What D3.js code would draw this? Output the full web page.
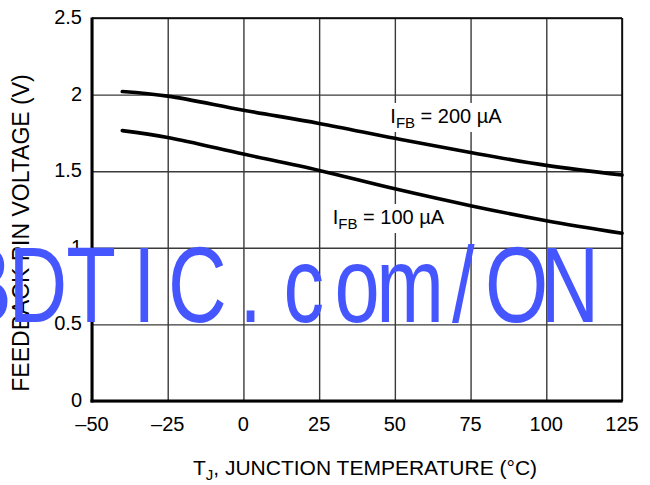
<!DOCTYPE html>
<html>
<head>
<meta charset="utf-8">
<script src="https://cdn.jsdelivr.net/npm/d3@7"></script>
<style>
  html, body { margin: 0; padding: 0; background: #fff; }
  svg { display: block; }
  text { font-family: "Liberation Sans", Arial, Helvetica, sans-serif; fill: #000; }
</style>
</head>
<body>
<svg id="chart" width="650" height="485"></svg>
<script>
// ---- data ----
const temps   = [-40, -25, 0, 25, 50, 75, 100, 125];
const vfb200  = [2.02, 1.99, 1.898, 1.812, 1.715, 1.622, 1.538, 1.475];
const vfb100  = [1.765, 1.72, 1.612, 1.505, 1.385, 1.275, 1.177, 1.095];
const xTicks  = [-50, -25, 0, 25, 50, 75, 100, 125];
const yTicks  = [0, 0.5, 1, 1.5, 2, 2.5];
const seriesLabels = [
  { main: "I", sub: "FB", rest: " = 200 µA", t: 48.5, v: 1.815 },
  { main: "I", sub: "FB", rest: " = 100 µA", t: 29.5, v: 1.155 }
];
const watermark = "BDTIC.com/ON";

// ---- layout ----
const svg = d3.select("#chart");
const L = 92, R = 622, T = 18, B = 401;
const x = d3.scaleLinear().domain([-50, 125]).range([L, R]);
const y = d3.scaleLinear().domain([0, 2.5]).range([B, T]);

// grid
svg.append("g").attr("transform", `translate(0,${B})`)
  .call(d3.axisBottom(x).tickValues(xTicks).tickSize(-(B - T)).tickFormat(""))
  .call(g => g.select(".domain").remove())
  .call(g => g.selectAll("line").attr("stroke", "#3a3a3a").attr("stroke-width", 1.4));
svg.append("g").attr("transform", `translate(${L},0)`)
  .call(d3.axisLeft(y).tickValues(yTicks).tickSize(-(R - L)).tickFormat(""))
  .call(g => g.select(".domain").remove())
  .call(g => g.selectAll("line").attr("stroke", "#3a3a3a").attr("stroke-width", 1.4));

// label backgrounds (white boxes that interrupt grid)
const labelG = svg.append("g");
const labels = labelG.selectAll("g.lab").data(seriesLabels).join("g").attr("class", "lab");
const labTexts = labels.append("text")
  .attr("x", d => x(d.t)).attr("y", d => y(d.v))
  .style("font-size", "20px");
labTexts.append("tspan").text(d => d.main);
labTexts.append("tspan").attr("dy", 5).style("font-size", "15px").text(d => d.sub);
labTexts.append("tspan").attr("dy", -5).text(d => d.rest);
labels.each(function() {
  const g = d3.select(this);
  const bb = g.select("text").node().getBBox();
  g.insert("rect", "text")
    .attr("x", bb.x - 5).attr("y", bb.y - 2)
    .attr("width", bb.width + 10).attr("height", bb.height + 3)
    .attr("fill", "#fff");
});

// curves
const line = d3.line().x(d => x(d[0])).y(d => y(d[1])).curve(d3.curveCatmullRom.alpha(0.5));
[vfb200, vfb100].forEach(vals => {
  svg.append("path")
    .datum(temps.map((t, i) => [t, vals[i]]))
    .attr("d", line)
    .attr("fill", "none").attr("stroke", "#000")
    .attr("stroke-width", 3.6).attr("stroke-linecap", "round");
});
labelG.raise();
svg.selectAll("path").raise();

// frame
svg.append("line").attr("x1", L).attr("x2", R).attr("y1", T).attr("y2", T).attr("stroke", "#000").attr("stroke-width", 1.5);
svg.append("line").attr("x1", R).attr("x2", R).attr("y1", T).attr("y2", B).attr("stroke", "#000").attr("stroke-width", 1.5);
svg.append("line").attr("x1", L).attr("x2", L).attr("y1", T - 0.5).attr("y2", B + 1.5).attr("stroke", "#000").attr("stroke-width", 3);
svg.append("line").attr("x1", L - 1.5).attr("x2", R + 0.75).attr("y1", B).attr("y2", B).attr("stroke", "#000").attr("stroke-width", 3);

// tick labels
svg.append("g").selectAll("text").data(xTicks).join("text")
  .attr("x", d => x(d)).attr("y", B + 30)
  .attr("text-anchor", "middle").style("font-size", "20px")
  .text(d => d < 0 ? "\u2013" + Math.abs(d) : String(d));
svg.append("g").selectAll("text").data(yTicks).join("text")
  .attr("x", L - 10).attr("y", d => y(d) + 6)
  .attr("text-anchor", "end").style("font-size", "20px")
  .text(d => String(d));

// axis titles
const xt = svg.append("text").attr("x", 365).attr("y", 475)
  .attr("text-anchor", "middle").style("font-size", "21px");
xt.append("tspan").text("T");
xt.append("tspan").attr("dy", 5).style("font-size", "15px").text("J");
xt.append("tspan").attr("dy", -5).text(", JUNCTION TEMPERATURE (°C)");

svg.append("text")
  .attr("transform", "translate(29,233) rotate(-90)")
  .attr("text-anchor", "middle").style("font-size", "23px")
  .text("FEEDBACK PIN VOLTAGE (V)");

// watermark
const pitch = 53.2, firstCenter = -15.4;
svg.append("g").selectAll("text").data(watermark.split("")).join("text")
  .attr("transform", (d, i) => `translate(${firstCenter + i * pitch},322) scale(0.76,1)`)
  .attr("text-anchor", "middle")
  .style("font-size", "107px")
  .style("fill", "#4656ff")
  .text(d => d);
</script>
</body>
</html>
